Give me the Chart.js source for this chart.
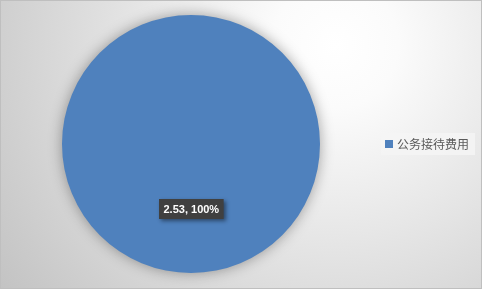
<!DOCTYPE html>
<html>
<head>
<meta charset="utf-8">
<script src="https://cdn.jsdelivr.net/npm/chart.js@4/dist/chart.umd.min.js"></script>
<style>
html,body{margin:0;padding:0;background:#fff;}
#wrap{position:relative;width:482px;height:290px;}
canvas{display:block;}
</style>
</head>
<body>
<div id="wrap"><canvas id="c" width="482" height="290"></canvas></div>
<script>
const categories = ["公务接待费用"];
const values = [2.53];
const percentLabels = ["100%"];
const sliceColors = ["#4F81BD"];

const bgPlugin = {
  id: 'bg',
  beforeDraw(chart) {
    const ctx = chart.ctx;
    const w = chart.width;
    ctx.save();
    const g = ctx.createRadialGradient(335, 45, 0, 335, 45, 420);
    g.addColorStop(0, '#FFFFFF');
    g.addColorStop(0.15, '#FBFBFB');
    g.addColorStop(1, '#C2C2C2');
    ctx.fillStyle = g;
    ctx.fillRect(0, 0, w, 289);
    ctx.strokeStyle = '#BFBFBF';
    ctx.lineWidth = 1;
    ctx.strokeRect(0.5, 0.5, w - 1, 288);
    ctx.restore();
  }
};

const shadowPlugin = {
  id: 'pieShadow',
  beforeDatasetDraw(chart) {
    const ctx = chart.ctx;
    ctx.save();
    ctx.shadowColor = 'rgba(0,0,0,0.35)';
    ctx.shadowBlur = 14;
    ctx.shadowOffsetX = 0;
    ctx.shadowOffsetY = 0;
  },
  afterDatasetDraw(chart) {
    chart.ctx.restore();
  }
};

const labelPlugin = {
  id: 'labels',
  afterDatasetsDraw(chart) {
    const ctx = chart.ctx;
    const meta = chart.getDatasetMeta(0);
    meta.data.forEach((arc, i) => {
      const p = arc.tooltipPosition();
      const text = values[i].toFixed(2) + ', ' + percentLabels[i];
      ctx.save();
      ctx.font = 'bold 11px "Liberation Sans", Arial, sans-serif';
      const tw = ctx.measureText(text).width;
      const bw = tw + 9, bh = 20;
      const x = Math.round(p.x - bw / 2), y = Math.round(p.y - bh / 2);
      ctx.shadowColor = 'rgba(0,0,0,0.45)';
      ctx.shadowBlur = 4;
      ctx.shadowOffsetX = 2;
      ctx.shadowOffsetY = 2;
      ctx.fillStyle = '#404040';
      ctx.fillRect(x, y, bw, bh);
      ctx.shadowColor = 'transparent';
      ctx.fillStyle = '#FFFFFF';
      ctx.textAlign = 'center';
      ctx.textBaseline = 'middle';
      ctx.fillText(text, x + bw / 2, y + bh / 2 + 1);
      ctx.restore();
    });
    // legend
    ctx.save();
    ctx.font = '12px "Noto Sans CJK SC", sans-serif';
    const lx = 381, ly = 133, lh = 22;
    let yy = ly;
    categories.forEach((c, i) => {
      const tw = ctx.measureText(c).width;
      ctx.fillStyle = 'rgba(245,245,245,0.85)';
      ctx.fillRect(lx, yy, tw + 22, lh);
      ctx.fillStyle = sliceColors[i];
      ctx.fillRect(lx + 4, yy + 7, 8, 8);
      ctx.fillStyle = '#595959';
      ctx.textBaseline = 'middle';
      ctx.textAlign = 'left';
      ctx.fillText(c, lx + 16, yy + lh / 2 + 0.5);
      yy += lh;
    });
    ctx.restore();
  }
};

new Chart(document.getElementById('c'), {
  type: 'pie',
  data: {
    labels: categories,
    datasets: [{
      data: values,
      backgroundColor: sliceColors,
      borderWidth: 0
    }]
  },
  options: {
    responsive: false,
    animation: false,
    layout: { padding: { left: 62, right: 162, top: 15, bottom: 17 } },
    plugins: {
      legend: { display: false },
      tooltip: { enabled: false }
    }
  },
  plugins: [bgPlugin, shadowPlugin, labelPlugin]
});
</script>
</body>
</html>
